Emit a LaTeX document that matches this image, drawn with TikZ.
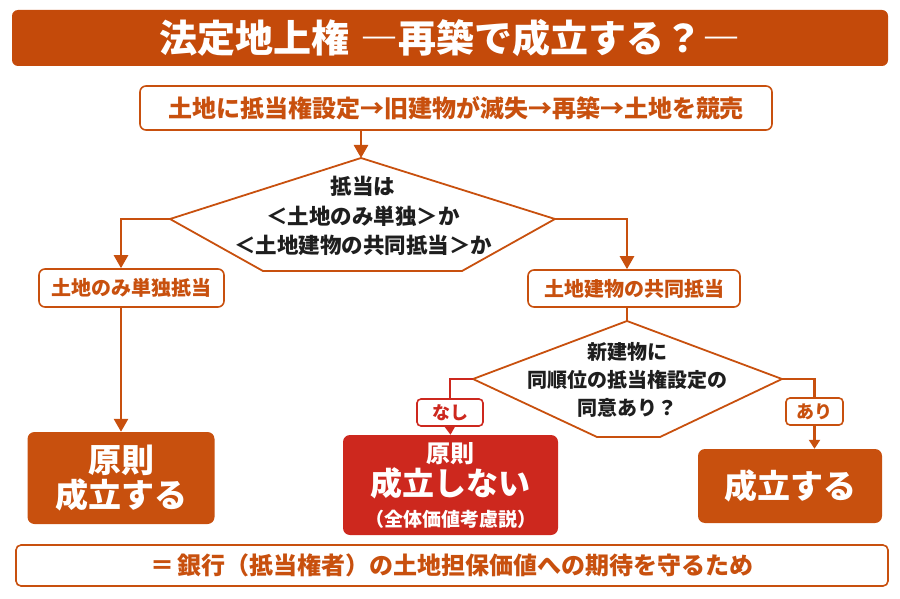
\documentclass[tikz,border=0pt]{standalone}
\usepackage{fontspec}
\setmainfont{Noto Sans CJK JP}
\usetikzlibrary{arrows.meta,positioning}

\definecolor{brick}{RGB}{200,80,14}
\definecolor{brickdark}{RGB}{196,74,10}
\definecolor{alert}{RGB}{205,40,30}
\definecolor{ink}{RGB}{30,30,30}

\begin{document}
\begin{tikzpicture}[
    x=1pt, y=-1pt,
    box/.style={draw=brick, line width=1.6pt, rounded corners=6pt, fill=white, inner sep=0pt, align=center, text=brick, font=\bfseries\fontsize{20}{24}\selectfont},
    resultbox/.style={fill=brick, rounded corners=7pt, inner sep=0pt, align=center, text=white, font=\bfseries\fontsize{33}{36}\selectfont},
    tagbox/.style={box, rounded corners=4pt, font=\bfseries\fontsize{18}{20}\selectfont},
    qtext/.style={inner sep=0pt, align=center, text=ink, font=\bfseries\fontsize{20}{29}\selectfont},
    decision/.style={draw=brick, line width=1.8pt, line join=miter},
    link/.style={draw=brick, line width=2.6pt},
    arrow/.style={link, -{Triangle[width=14pt,length=13pt]}},
    smallarrow/.style={link, -{Triangle[width=11pt,length=9pt]}}
]
\useasboundingbox (0,0) rectangle (900,599);

% title and start
\node[fill=brickdark, rounded corners=6pt, minimum width=876pt, minimum height=56pt, text=white, font=\bfseries\fontsize{38}{40}\selectfont] (title) at (450,38) {法定地上権\hspace{0.3em}―再築で成立する？―};
\node[box, minimum width=632pt, minimum height=44pt, font=\bfseries\fontsize{24}{26}\selectfont] (start) at (456,108) {土地に抵当権設定→旧建物が滅失→再築→土地を競売};

% first question
\coordinate (q1t) at (361,158);
\coordinate (q1l) at (170,219);
\coordinate (q1r) at (555,219);
\coordinate (q1bl) at (263,271);
\coordinate (q1br) at (462,271);
\draw[decision] (q1t) -- (q1r) -- (q1br) -- (q1bl) -- (q1l) -- cycle;
\node[qtext, font=\bfseries\fontsize{21.5}{29.5}\selectfont] (q1) at (363,216) {抵当は\\＜土地のみ単独＞か\\＜土地建物の共同抵当＞か};

% branches
\node[box, minimum width=185pt, minimum height=38pt] (landonly) at (131.5,288) {土地のみ単独抵当};
\node[box, minimum width=212pt, minimum height=37pt] (joint) at (634,288.5) {土地建物の共同抵当};
\node[resultbox, minimum width=187pt, minimum height=92pt, font=\bfseries\fontsize{33}{35}\selectfont] (res1) at (121,478) {原則\\成立する};

% second question
\coordinate (q2t) at (627,321);
\coordinate (q2l) at (473,379);
\coordinate (q2r) at (782,379);
\coordinate (q2bl) at (597,437);
\coordinate (q2br) at (660,437);
\draw[decision] (q2t) -- (q2r) -- (q2br) -- (q2bl) -- (q2l) -- cycle;
\node[qtext, font=\bfseries\fontsize{20}{28}\selectfont] (q2) at (627,380) {新建物に\\同順位の抵当権設定の\\同意あり？};

\node[tagbox, draw=alert, text=alert, minimum width=66pt, minimum height=27pt] (nashi) at (450,412.5) {なし};
\node[tagbox, minimum width=57pt, minimum height=27pt] (ari) at (814.5,411.5) {あり};
\node[resultbox, fill=alert, minimum width=215pt, minimum height=100pt, font=\bfseries\fontsize{24}{33}\selectfont] (res2) at (450.5,485) {原則\\{\fontsize{32}{32}\selectfont 成立しない}\\[-2pt]{\fontsize{19}{20}\selectfont （全体価値考慮説）}};
\node[resultbox, minimum width=184pt, minimum height=74pt] (res3) at (790,486) {成立する};

% note
\node[box, minimum width=872pt, minimum height=41pt, rounded corners=5pt, font=\bfseries\fontsize{24}{26}\selectfont] (note) at (452,565.5) {＝\hspace{0.1em}銀行（抵当権者）の土地担保価値への期待を守るため};

% connectors
\draw[arrow] (q1t |- start.south) -- (q1t);
\draw[arrow] (q1l) -| (landonly.north -| res1.north);
\draw[arrow] (q1r) -| (joint.north -| q2t);
\draw[arrow] (landonly.south -| res1.north) -- (res1.north);
\draw[link] (joint.south -| q2t) -- (q2t);
\draw[link, draw=alert] (q2l) -| (nashi.north);
\draw[smallarrow, draw=alert] (nashi.south) -- (res2.north);
\draw[link] (q2r) -| (ari.north);
\draw[smallarrow] (ari.south) -- (ari.south |- res3.north);
\end{tikzpicture}
\end{document}
